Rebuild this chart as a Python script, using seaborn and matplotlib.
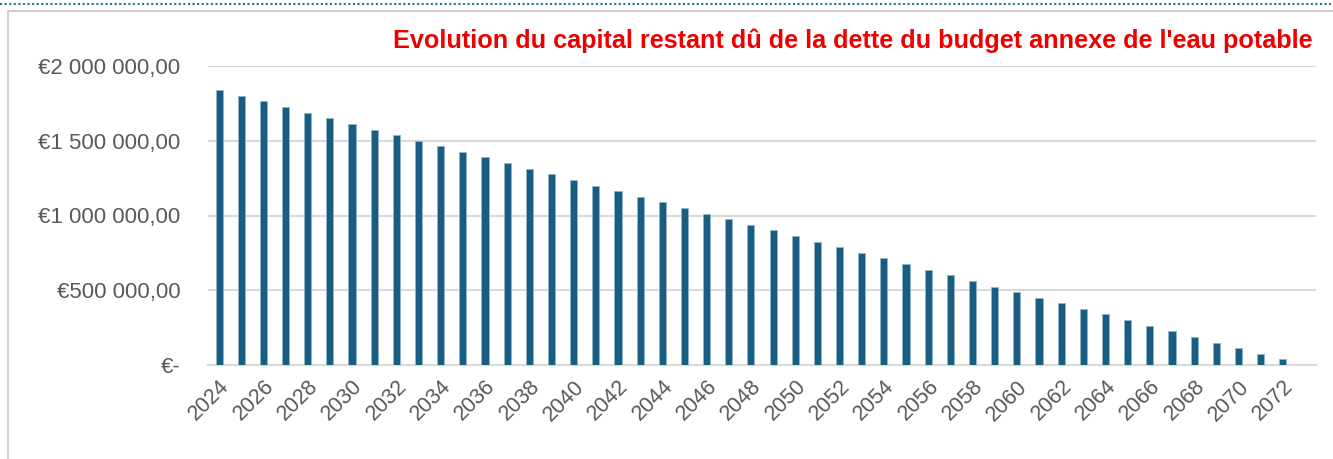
import matplotlib
matplotlib.use("Agg")
import matplotlib.pyplot as plt
from matplotlib.ticker import FuncFormatter
from matplotlib.lines import Line2D
from matplotlib.patches import Rectangle
import seaborn as sns
import pandas as pd

# Years and remaining capital
years = list(range(2024, 2074))
capital = [
    1838000, 1800000, 1763000, 1725000, 1688000, 1650000, 1613000, 1575000,
    1538000, 1500000, 1463000, 1425000, 1388000, 1350000, 1313000, 1275000,
    1238000, 1200000, 1163000, 1125000, 1088000, 1050000, 1013000, 975000,
    938000, 900000, 863000, 825000, 788000, 750000, 713000, 675000,
    638000, 600000, 563000, 525000, 488000, 450000, 413000, 375000,
    338000, 300000, 263000, 225000, 188000, 150000, 113000, 75000,
    38000, 2500,
]
yticks = [0, 500000, 1000000, 1500000, 2000000]
title = "Evolution du capital restant dû de la dette du budget annexe de l'eau potable"

bar_color = "#175e82"
grid_color = "#d9d9d9"
text_color = "#595959"

sns.set_style("white")
plt.rcParams["font.family"] = ["Liberation Sans", "DejaVu Sans"]

df = pd.DataFrame({"year": [str(y) for y in years], "capital": capital})

fig = plt.figure(figsize=(13.33, 4.59), dpi=100)
ax = fig.add_axes([208 / 1333, 94 / 459, 1108 / 1333, 299 / 459])

sns.barplot(data=df, x="year", y="capital", color=bar_color, width=0.32,
            saturation=1, edgecolor="#8fb4c8", linewidth=0.6, ax=ax, zorder=3)


def euro(v, pos):
    if v == 0:
        return "€-"
    return "€" + f"{v:,.2f}".replace(",", " ").replace(".", ",")


ax.set_ylim(0, 2000000)
ax.set_yticks(yticks)
ax.yaxis.set_major_formatter(FuncFormatter(euro))
ax.set_xlim(-0.5, len(years) - 0.5)
ax.set_xticks(range(0, len(years), 2))
ax.set_xticklabels(years[::2], rotation=45, ha="right", rotation_mode="anchor")
ax.tick_params(axis="y", length=0, pad=20, labelsize=16, labelcolor=text_color)
ax.tick_params(axis="x", length=0, pad=8, labelsize=15.5, labelcolor=text_color)
for lbl in ax.get_xticklabels():
    lbl.set_x(lbl.get_position()[0])
ax.grid(axis="y", color=grid_color, linewidth=1.5, zorder=0)
for s in ["top", "right", "left"]:
    ax.spines[s].set_visible(False)
ax.spines["bottom"].set_color(grid_color)
ax.spines["bottom"].set_linewidth(1.5)
ax.set_xlabel("")
ax.set_ylabel("")

fig.text(1313 / 1333, 1 - 41 / 459, title, ha="right", va="center",
         fontsize=18.2, fontweight="bold", color="#ee0000")

# outer frame and dotted top line
fig.patches.append(Rectangle((8 / 1333, -0.05), 1.1, 1 - 11 / 459 + 0.05,
                             transform=fig.transFigure, fill=False,
                             edgecolor="#d0d0d0", linewidth=1.5))
fig.lines.append(Line2D([0, 1], [1 - 4 / 459, 1 - 4 / 459], transform=fig.transFigure,
                        color="#2f6f96", linewidth=1.5, linestyle=(0, (1, 1.2))))

fig.savefig("out.png", dpi=100)
